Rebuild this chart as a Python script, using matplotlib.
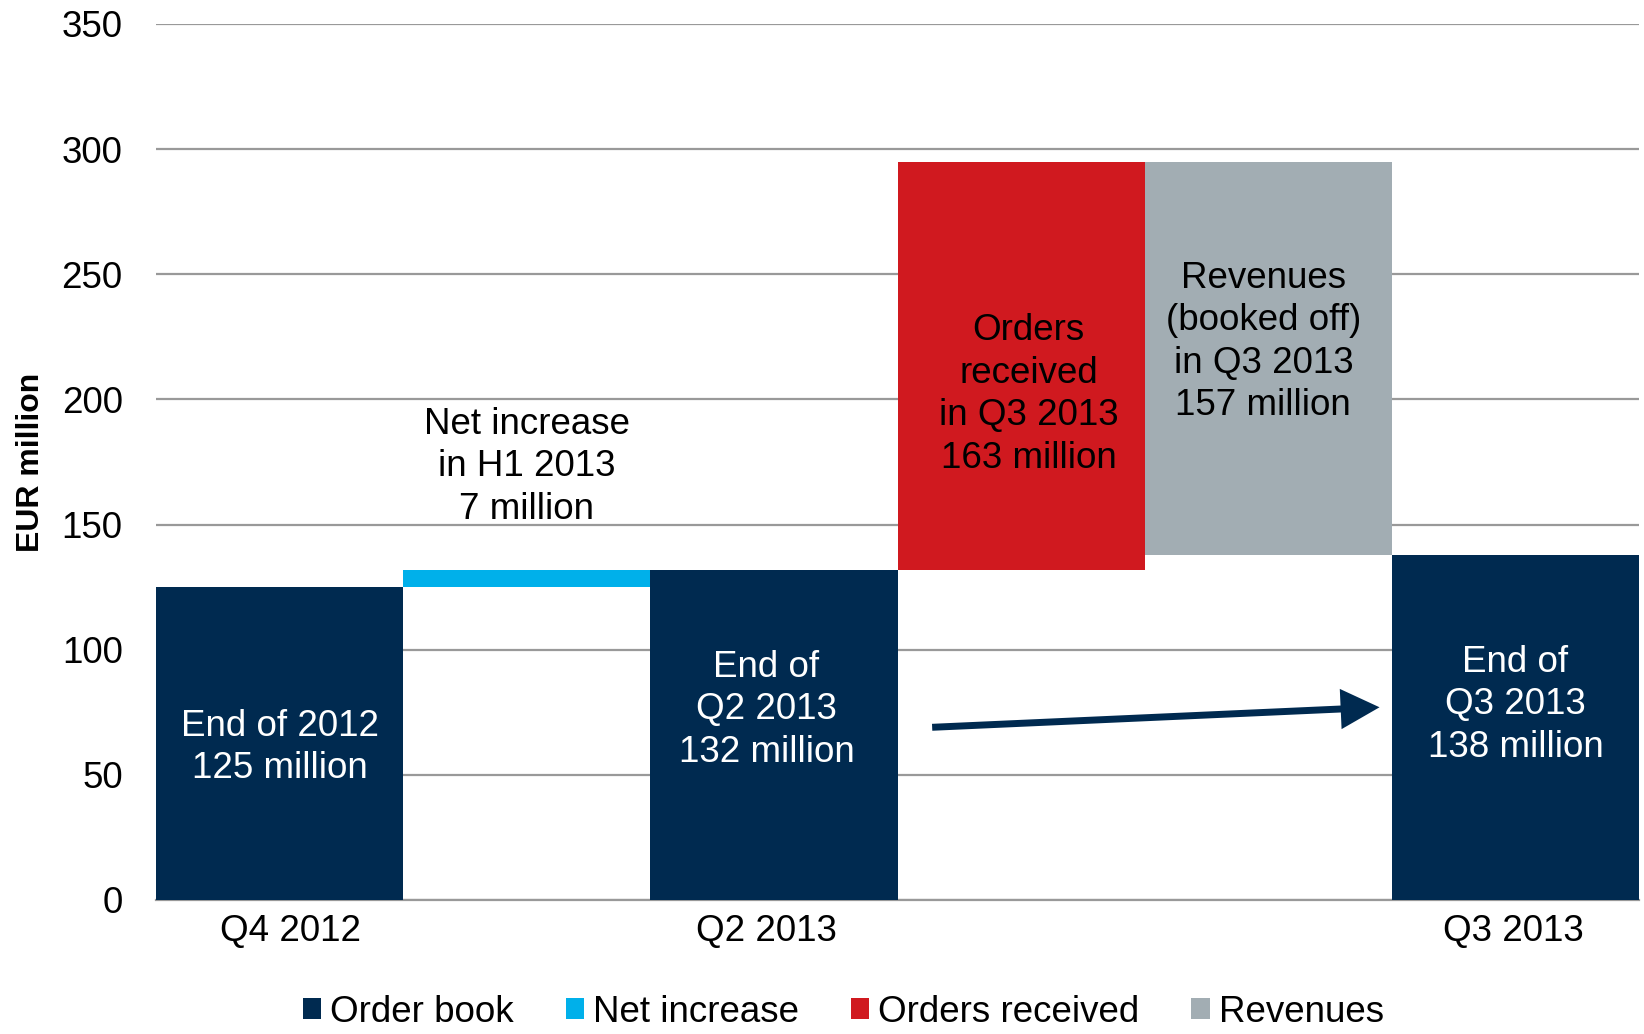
import matplotlib
matplotlib.use("Agg")
import matplotlib.pyplot as plt
from matplotlib.patches import Patch

plt.rcParams['font.family'] = ['Liberation Sans', 'DejaVu Sans']

# Data
slots = [0, 1, 2, 3, 4, 5]
bar_bottoms = [0, 125, 0, 132, 138, 0]
bar_heights = [125, 7, 132, 163, 157, 138]
bar_series = ["Order book", "Net increase", "Order book", "Orders received", "Revenues", "Order book"]
series_names = ["Order book", "Net increase", "Orders received", "Revenues"]
series_colors = {"Order book": "#002A50", "Net increase": "#00B0EA",
                 "Orders received": "#D0191F", "Revenues": "#A2ADB3"}
tick_labels = ["Q4 2012", "Q2 2013", "Q3 2013"]
bar_texts = ["End of 2012\n125 million", "Net increase\nin H1 2013\n7 million",
             "End of\nQ2 2013\n132 million", "Orders\nreceived\nin Q3 2013\n163 million",
             "Revenues\n(booked off)\nin Q3 2013\n157 million", "End of\nQ3 2013\n138 million"]
text_colors = ["white", "black", "white", "black", "black", "white"]

# Layout (label placement)
tick_positions = [0.045, 1.97, 4.99]
text_x = [0.0, 1.0, 1.97, 3.03, 3.98, 5.0]
text_y = [61, 173, 76, 202, 223, 78]
arrow_start = (2.64, 69)
arrow_end = (4.45, 77)

fig = plt.figure(figsize=(16.44, 10.34), dpi=100)
ax = fig.add_axes([0.0949, 0.1296, 0.9021, 0.8472])

colors = [series_colors[s] for s in bar_series]
ax.bar(slots, bar_heights, bottom=bar_bottoms, width=1.0, color=colors, zorder=3)

ax.set_xlim(-0.5, 5.5)
ax.set_ylim(0, 350)
ax.set_yticks(range(0, 351, 50))
ax.yaxis.grid(True, color="#999999", lw=1.6, zorder=0)
ax.set_axisbelow(True)
for sp in ["top", "right", "left"]:
    ax.spines[sp].set_visible(False)
ax.spines["bottom"].set_color("#999999")
ax.spines["bottom"].set_linewidth(1.6)
ax.spines["bottom"].set_zorder(2)
ax.tick_params(axis="both", length=0, labelsize=26.5)
ax.tick_params(axis="y", pad=24)
ax.tick_params(axis="x", pad=10)
ax.set_xticks(tick_positions)
ax.set_xticklabels(tick_labels)
ax.set_ylabel("EUR million", fontsize=23, fontweight="bold", labelpad=11)

for x, y, t, c in zip(text_x, text_y, bar_texts, text_colors):
    ax.text(x, y, t, ha="center", va="center", color=c, fontsize=26.5,
            linespacing=1.28, zorder=5)

ax.annotate("", xy=arrow_end, xytext=arrow_start,
            arrowprops=dict(facecolor="#002A50", edgecolor="none", width=5,
                            headwidth=29, headlength=28, shrink=0),
            zorder=6)

handles = [Patch(facecolor=series_colors[s], edgecolor="none") for s in series_names]
fig.legend(handles, series_names, loc="center", bbox_to_anchor=(0.513, 0.021),
           ncol=4, frameon=False, fontsize=26.5, handlelength=0.5,
           handleheight=0.5, handletextpad=0.25, columnspacing=1.4,
           borderaxespad=0, borderpad=0)

fig.savefig("out.png", dpi=100)
